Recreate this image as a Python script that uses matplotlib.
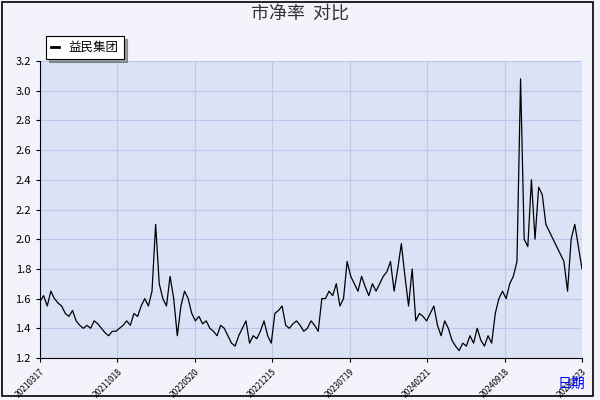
import numpy as np
import matplotlib.pyplot as plt
from matplotlib.patches import Rectangle

plt.rcParams['font.family'] = ['Noto Sans CJK SC', 'DejaVu Sans']

title = "市净率  对比"
series_name = "益民集团"
tick_labels = ["20210317", "20211018", "20220520", "20221215", "20230719",
               "20240221", "20240918", "20250423"]
pb = [1.58, 1.62, 1.55, 1.65, 1.6, 1.57,
      1.55, 1.5, 1.48, 1.52, 1.45, 1.42, 1.4,
      1.42, 1.4, 1.45, 1.43, 1.4, 1.37, 1.35, 1.38,
      1.38, 1.4, 1.42, 1.45, 1.42, 1.5, 1.48, 1.55,
      1.6, 1.55, 1.65, 2.1, 1.7, 1.6,
      1.55, 1.75, 1.6, 1.35, 1.55, 1.65, 1.6, 1.5,
      1.45, 1.48, 1.43, 1.45, 1.4, 1.38, 1.35, 1.42,
      1.4, 1.35, 1.3, 1.28, 1.35, 1.4, 1.45, 1.3,
      1.35, 1.33, 1.38, 1.45, 1.35, 1.3,
      1.5, 1.52, 1.55,
      1.42, 1.4, 1.43, 1.45, 1.42, 1.38, 1.4, 1.45,
      1.42, 1.38, 1.6,
      1.6, 1.65, 1.62, 1.7, 1.55, 1.6, 1.85, 1.75,
      1.7, 1.65, 1.75, 1.68, 1.62, 1.7, 1.65,
      1.7, 1.75, 1.78, 1.85, 1.65, 1.8, 1.97, 1.75,
      1.55, 1.8, 1.45, 1.5,
      1.48, 1.45, 1.5, 1.55, 1.42, 1.35, 1.45, 1.4,
      1.32, 1.28, 1.25, 1.3, 1.28, 1.35, 1.3, 1.4, 1.32, 1.28,
      1.35, 1.3, 1.5, 1.6, 1.65, 1.6, 1.7, 1.75,
      1.85, 3.08, 2.0, 1.95, 2.4, 2.0, 2.35,
      2.3, 2.1, 2.05, 2.0, 1.95, 1.9, 1.85, 1.65, 2.0, 2.1, 1.95, 1.8]

fig = plt.figure(figsize=(6, 4), dpi=100, facecolor="#f2f3fb")
# outer border
fig.patches.append(Rectangle((0.003, 0.01), 0.985, 0.985, transform=fig.transFigure,
                             fill=False, edgecolor="black", linewidth=1.2))
ax = fig.add_axes([40 / 600, 42 / 400, 542 / 600, 297 / 400])
ax.set_facecolor("#dce2f5")

n = len(pb)
x = np.arange(n)
ax.plot(x, pb, color="black", linewidth=0.9, label=series_name)
ax.set_xlim(0, n - 1)
ax.set_ylim(1.2, 3.2)
yt = np.arange(1.2, 3.21, 0.2)
ax.set_yticks(yt)
ax.set_yticklabels([f"{v:.1f}" for v in yt], fontsize=8)
ticks = np.linspace(0, n - 1, len(tick_labels))
ax.set_xticks(ticks)
ax.set_xticklabels(tick_labels, rotation=45, fontsize=6, ha="right",
                   rotation_mode="anchor")
ax.grid(True, color="#b8c8ee", linewidth=0.8)
for s in ["top", "right"]:
    ax.spines[s].set_visible(False)
ax.tick_params(length=3)

fig.text(0.5, 0.965, title, ha="center", va="center", fontsize=13, color="#333333")
fig.text(0.975, 0.03, "日期", ha="right", fontsize=10, color="blue")
leg = fig.legend(loc="upper left", bbox_to_anchor=(40 / 600, 0.925), fontsize=9,
                 fancybox=False, shadow=True, handlelength=0.6, frameon=True,
                 edgecolor="black")
leg.get_frame().set_linewidth(0.8)
for line in leg.get_lines():
    line.set_linewidth(2)

fig.savefig("out.png", dpi=100, facecolor=fig.get_facecolor())
